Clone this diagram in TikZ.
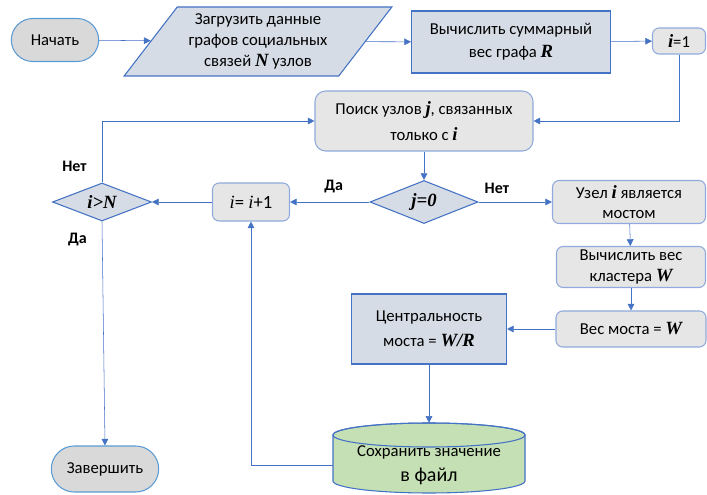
\documentclass[tikz,border=0pt]{standalone}
\usepackage{fontspec}
\setmainfont{Carlito}
\newfontfamily\mth{Liberation Serif}
\usetikzlibrary{shapes.geometric,shapes.misc,arrows.meta}

\definecolor{lineblue}{HTML}{4472C4}
\definecolor{softblue}{HTML}{8FAADC}
\definecolor{termblue}{HTML}{5B9BD5}
\definecolor{termfill}{HTML}{D9D9D9}
\definecolor{procfill}{HTML}{E7E6E6}
\definecolor{bluefill}{HTML}{D6DCE5}
\definecolor{greenfill}{HTML}{C5E0B4}

\newcommand{\mv}[1]{{\mth\bfseries\itshape\fontsize{14}{16}\selectfont #1}}

\begin{document}
\begin{tikzpicture}[x=0.75pt,y=-0.75pt]

  \tikzstyle{base}=[font=\fontsize{12.5}{15.5}\selectfont,align=center,inner sep=1pt]
  \tikzstyle{term}=[base,rounded rectangle,draw=termblue,fill=termfill,thick]
  \tikzstyle{proc}=[base,rectangle,rounded corners=5pt,draw=softblue,fill=procfill,thick]
  \tikzstyle{calc}=[base,rectangle,draw=lineblue,fill=bluefill,thick]
  \tikzstyle{cond}=[base,diamond,aspect=2.5,draw=lineblue,fill=bluefill,thick,inner sep=0pt]
  \tikzstyle{arr}=[draw=lineblue,-{Triangle[length=5pt,width=5pt]}]
  \tikzstyle{lbl}=[font=\fontsize{12}{14}\selectfont\bfseries]

  % ====================
  % Parameters
  % ====================
  \def\px{0.75pt}  % one pixel of the reference
  \def\cylrx{96}   % half width of the storage
  \def\cylry{12}   % half height of its ellipses
  % ====================

  \useasboundingbox (0,0) rectangle (707,495);

  % ====================
  % Top row
  % ====================
  \node (start) [term,minimum width=90*\px,minimum height=43*\px] at (55,40) {Начать};
  \node (load) [base,trapezium,trapezium left angle=51,trapezium right angle=129,
    trapezium stretches=true,draw=lineblue,fill=bluefill,thick,
    minimum width=268*\px,minimum height=69*\px] at (258,41.5)
    {Загрузить данные\\графов социальных\\связей \mv{N} узлов};
  \node (sum) [calc,minimum width=199*\px,minimum height=62*\px] at (511,42)
    {Вычислить суммарный\\[2pt]вес графа \mv{R}};
  \node (init) [proc,minimum width=53*\px,minimum height=26*\px] at (679,41)
    {\mv{i}=1};

  % ====================
  % Loop
  % ====================
  \node (find) [proc,rounded corners=8pt,minimum width=218*\px,minimum height=60*\px] at (424,121)
    {Поиск узлов \mv{j}, связанных\\[4pt]только с \mv{i}};
  \node (jzero) [cond,minimum width=108*\px,minimum height=43*\px] at (424,202)
    {\mv{j=0}};
  \node (inc) [proc,minimum width=77*\px,minimum height=38*\px] at (251,202)
    {\fontsize{14}{16}\selectfont{\mth\itshape i}= {\mth\itshape i}+1};
  \node (check) [cond,minimum width=99*\px,minimum height=38*\px] at (102,202)
    {\mv{i>N}};
  \node (stop) [term,minimum width=110*\px,minimum height=46*\px] at (105,469) {Завершить};

  % ====================
  % Bridge branch
  % ====================
  \node (bridge) [proc,minimum width=153*\px,minimum height=43*\px] at (629,202)
    {Узел \mv{i} является\\мостом};
  \node (cluster) [proc,minimum width=149*\px,minimum height=41*\px] at (631,267)
    {Вычислить вес\\кластера \mv{W}};
  \node (weight) [proc,minimum width=150*\px,minimum height=36*\px] at (631,329)
    {Вес моста = \mv{W}};
  \node (central) [calc,minimum width=155*\px,minimum height=70*\px] at (429,329)
    {Центральность\\[3pt]моста = \mv{W/R}};

  % Storage
  \filldraw[lineblue,fill=greenfill,thick] (429-\cylrx,435) -- (429-\cylrx,481)
    arc[start angle=180,end angle=0,x radius=\cylrx,y radius=\cylry]
    -- (429+\cylrx,435)
    arc[start angle=360,end angle=180,x radius=\cylrx,y radius=\cylry] -- cycle;
  \draw[lineblue,thick] (429,435) ellipse[x radius=\cylrx,y radius=\cylry];
  \node (save) [base,minimum width=192*\px,minimum height=84*\px] at (429,465)
    {Сохранить значение\\[3pt]\fontsize{15}{17}\selectfont в файл};

  % ====================
  % Connectors
  % ====================
  \draw[arr] (start) -- (load);
  \draw[arr] (load) -- (sum);
  \draw[arr] (sum) -- (init);
  \draw[arr] (init.south) |- (find.east);
  \draw[arr] (find) -- (jzero);
  \draw[arr] (jzero) -- (bridge) node[lbl,pos=0.25,above=3pt]{Нет};
  \draw[arr] (jzero) -- (inc) node[lbl,pos=0.45,above=3pt]{Да};
  \draw[arr] (inc) -- (check);
  \draw[arr] (check.north) |- (find.west) node[lbl,pos=0.13,left=8pt]{Нет};
  \draw[arr] (check.south) -- (stop.north) node[lbl,pos=0.08,left=8pt]{Да};
  \draw[arr] (bridge) -- (cluster);
  \draw[arr] (cluster) -- (weight);
  \draw[arr] (weight) -- (central);
  \draw[arr] (central) -- (save.north);
  \draw[arr] (save.west) -| (inc.south);

\end{tikzpicture}
\end{document}
